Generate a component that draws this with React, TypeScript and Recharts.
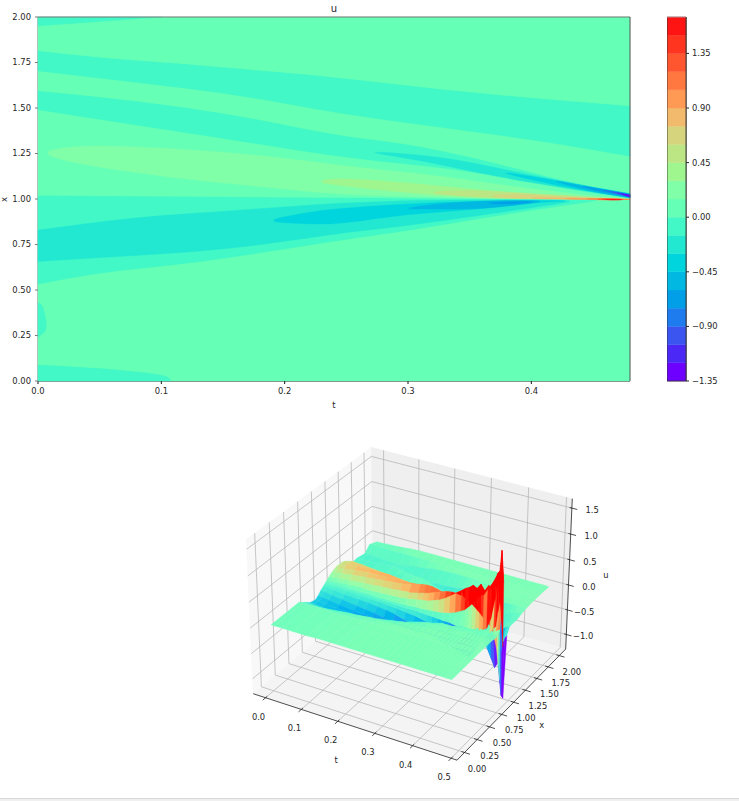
import { ComposedChart, Scatter, XAxis, YAxis } from "recharts";

type Pt = [number, number];
type Vertex = { x: number; y: number };

const FONT = "'DejaVu Sans', sans-serif";
const INK = "#262626";

// ---- contour panel: band outlines as [t, x]
const tTicks = [0, 0.1, 0.2, 0.3, 0.4];
const xTicks = [0, 0.25, 0.5, 0.75, 1, 1.25, 1.5, 1.75, 2];
const colorTicks = [-1.35, -0.9, -0.45, 0, 0.45, 0.9, 1.35];
const colorEdges = [
  -1.35, -1.2, -1.05, -0.9, -0.75, -0.6, -0.45, -0.3, -0.15, 0, 0.15, 0.3, 0.45, 0.6, 0.75, 0.9, 1.05, 1.2, 1.35, 1.5,
  1.65,
];
const levelColors = [
  "#6e00ff", "#4c28f6", "#3b55f0", "#1e7cee", "#009fe8", "#00b8e2", "#00d4dd", "#22e8d2", "#42f8c6", "#66ffb6",
  "#80ffa8", "#9ff58e", "#bce584", "#d6d47d", "#f2ba6c", "#ff9a55", "#ff7840", "#ff5630", "#ff3520", "#ff1414",
];

const fullPanel: Pt[] = [[0, 0], [0.48, 0], [0.48, 2], [0, 2]];
const cornerTop: Pt[] = [[0, 2], [0.1, 2], [0, 1.95]];
const stripeOne: Pt[] = [
  [0, 1.813], [0.05, 1.776], [0.131, 1.734], [0.245, 1.666], [0.326, 1.6], [0.407, 1.55], [0.48, 1.51],
  [0.48, 1.235], [0.407, 1.321], [0.326, 1.394], [0.245, 1.468], [0.158, 1.578], [0.077, 1.642], [0, 1.703],
];
const stripeTwo: Pt[] = [
  [0, 1.593], [0.077, 1.541], [0.158, 1.464], [0.245, 1.345], [0.299, 1.303], [0.358, 1.22], [0.413, 1.12],
  [0.466, 1.04], [0.48, 1.02], [0.48, 1.005], [0.434, 1.064], [0.38, 1.119], [0.326, 1.174], [0.245, 1.229],
  [0.158, 1.325], [0.077, 1.409], [0, 1.49],
];
const upperLens7: Pt[] = [
  [0.258, 1.268], [0.326, 1.235], [0.38, 1.16], [0.434, 1.085], [0.48, 1.025], [0.48, 1.008], [0.434, 1.05],
  [0.366, 1.13], [0.312, 1.21],
];
const upperLens6: Pt[] = [[0.37, 1.156], [0.418, 1.105], [0.45, 1.065], [0.48, 1.03], [0.48, 1.006], [0.44, 1.05], [0.4, 1.105]];
const upperLens5: Pt[] = [[0.41, 1.112], [0.45, 1.06], [0.48, 1.028], [0.48, 1.007], [0.45, 1.04]];
const upperLens4: Pt[] = [[0.435, 1.078], [0.46, 1.05], [0.48, 1.026], [0.48, 1.008], [0.46, 1.035]];
const upperLens3: Pt[] = [[0.452, 1.058], [0.48, 1.024], [0.48, 1.01]];
const upperLens2: Pt[] = [[0.46, 1.048], [0.48, 1.022], [0.48, 1.011]];
const upperLens1: Pt[] = [[0.466, 1.04], [0.48, 1.021], [0.48, 1.012]];
const upperLens0: Pt[] = [[0.472, 1.032], [0.48, 1.02], [0.48, 1.013]];

const ridge10: Pt[] = [
  [0.001, 1.262], [0.037, 1.297], [0.104, 1.281], [0.185, 1.239], [0.245, 1.183], [0.326, 1.128], [0.38, 1.073],
  [0.434, 1.028], [0.48, 1], [0.407, 0.996], [0.326, 1.009], [0.245, 1.024], [0.185, 1.064], [0.104, 1.119], [0.023, 1.202],
];
const ridge11: Pt[] = [
  [0.225, 1.095], [0.245, 1.119], [0.326, 1.073], [0.38, 1.037], [0.434, 1.009], [0.48, 0.996], [0.407, 0.996],
  [0.326, 1.015], [0.245, 1.073],
];
const ridge12: Pt[] = [[0.31, 1.037], [0.353, 1.05], [0.407, 1.028], [0.48, 0.998], [0.407, 0.996], [0.353, 1.009]];
const ridge13: Pt[] = [[0.36, 1.015], [0.39, 1.028], [0.434, 1.009], [0.48, 0.998], [0.407, 0.996]];
const ridge14: Pt[] = [[0.39, 1.009], [0.434, 1.006], [0.48, 0.998], [0.434, 0.994]];
const ridge15: Pt[] = [[0.42, 1.003], [0.45, 1.003], [0.48, 0.998], [0.45, 0.993]];
const ridge16: Pt[] = [[0.44, 1.002], [0.46, 1.002], [0.48, 0.998], [0.46, 0.994]];
const ridge17: Pt[] = [[0.45, 1.001], [0.465, 1.002], [0.478, 0.998], [0.465, 0.993]];
const ridge18: Pt[] = [[0.455, 1], [0.465, 1], [0.476, 0.997], [0.465, 0.994]];
const ridge19: Pt[] = [[0.458, 0.998], [0.468, 1], [0.475, 0.997], [0.468, 0.994]];

const valley8: Pt[] = [
  [0, 1.018], [0.245, 1.006], [0.453, 0.995], [0.453, 0.99], [0.434, 0.972], [0.38, 0.917], [0.299, 0.826],
  [0.245, 0.774], [0.131, 0.651], [0.05, 0.596], [0, 0.532],
];
const valley7: Pt[] = [
  [0, 0.829], [0.077, 0.899], [0.158, 0.936], [0.245, 0.98], [0.326, 0.996], [0.44, 0.996], [0.42, 0.972],
  [0.366, 0.917], [0.299, 0.853], [0.245, 0.813], [0.158, 0.725], [0.077, 0.688], [0, 0.657],
];
const valley6: Pt[] = [
  [0.182, 0.877], [0.218, 0.927], [0.245, 0.95], [0.326, 0.985], [0.407, 0.993], [0.434, 0.99], [0.407, 0.982],
  [0.353, 0.94], [0.299, 0.917], [0.245, 0.862], [0.218, 0.862],
];
const valley5: Pt[] = [[0.292, 0.945], [0.326, 0.976], [0.366, 0.99], [0.407, 0.993], [0.407, 0.982], [0.361, 0.945], [0.326, 0.945]];
const valley4: Pt[] = [[0.36, 0.978], [0.385, 0.987], [0.407, 0.985], [0.38, 0.969]];
const sliver: Pt[] = [[0, 0.505], [0.042, 0.55], [0, 0.523]];
const leftStreak: Pt[] = [[0, 0.43], [0.004, 0.42], [0.008, 0.285], [0.002, 0.25], [0, 0.24]];
const bottomWedge: Pt[] = [[0, 0.088], [0.05, 0.07], [0.104, 0.035], [0.108, 0], [0, 0]];

const contourLayers: [number, Pt[]][] = [
  [9, fullPanel], [8, cornerTop], [8, stripeOne], [8, stripeTwo], [8, leftStreak], [8, bottomWedge],
  [7, upperLens7], [6, upperLens6], [5, upperLens5], [4, upperLens4], [3, upperLens3], [2, upperLens2],
  [1, upperLens1], [0, upperLens0], [10, ridge10], [11, ridge11], [12, ridge12], [13, ridge13], [14, ridge14],
  [15, ridge15], [16, ridge16], [17, ridge17], [18, ridge18], [19, ridge19], [8, valley8], [9, sliver], [7, valley7],
  [6, valley6], [5, valley5], [4, valley4],
];

const surfaceT = [
  0, 0.01, 0.03, 0.06, 0.1, 0.125, 0.15, 0.175, 0.2, 0.225, 0.25, 0.265, 0.28, 0.295, 0.31, 0.325, 0.34, 0.355, 0.37,
  0.38, 0.39, 0.4, 0.41, 0.42, 0.43, 0.44, 0.45, 0.46, 0.465, 0.47, 0.475, 0.48,
];
const surfaceX = [
  0, 0.5, 0.6, 0.7, 0.8, 0.85, 0.9, 0.95, 0.98, 0.995, 1.005, 1.02, 1.05, 1.1, 1.15, 1.2, 1.3, 1.4, 1.5, 1.6, 1.75, 1.85, 2,
];
const surfaceU = [
  [0.01, 0.01, -0.08, -0.17, -0.2, -0.16, -0.1, -0.06, -0.03, -0.02, -0.01, 0, 0.03, 0.07, 0.1, 0.12, 0.12, 0.05, -0.06, -0.04, -0.08, 0.03, -0.04],
  [0.01, 0.01, -0.08, -0.18, -0.21, -0.17, -0.11, -0.07, -0.04, -0.02, -0.01, 0.01, 0.05, 0.1, 0.13, 0.16, 0.16, 0.06, -0.06, -0.04, -0.08, 0.03, -0.04],
  [0.01, 0.01, -0.09, -0.2, -0.23, -0.19, -0.13, -0.08, -0.05, -0.03, -0.01, 0.02, 0.07, 0.13, 0.18, 0.21, 0.2, 0.06, -0.07, -0.04, -0.08, 0.03, -0.03],
  [0.01, 0.02, -0.08, -0.21, -0.25, -0.22, -0.16, -0.1, -0.06, -0.03, -0.01, 0.03, 0.09, 0.16, 0.21, 0.24, 0.19, 0.04, -0.08, -0.03, -0.09, 0.03, -0.02],
  [0.01, 0.02, -0.05, -0.2, -0.27, -0.25, -0.2, -0.12, -0.07, -0.04, -0.01, 0.05, 0.12, 0.19, 0.24, 0.26, 0.16, -0.05, -0.08, 0, -0.09, 0.03, 0.01],
  [0.02, 0.02, -0.03, -0.17, -0.27, -0.27, -0.22, -0.13, -0.08, -0.04, -0.01, 0.05, 0.13, 0.21, 0.25, 0.26, 0.14, -0.07, -0.03, -0.03, -0.07, 0.03, 0.02],
  [0.02, 0.02, -0.02, -0.14, -0.27, -0.28, -0.24, -0.15, -0.09, -0.05, -0.02, 0.06, 0.15, 0.23, 0.26, 0.26, 0.11, -0.08, 0.02, -0.06, -0.05, 0.03, 0.02],
  [0.02, 0.02, 0, -0.11, -0.26, -0.3, -0.28, -0.17, -0.1, -0.05, -0.02, 0.07, 0.16, 0.25, 0.27, 0.24, 0.03, -0.05, 0.03, -0.08, -0.02, 0.03, 0.02],
  [0.02, 0.03, 0.01, -0.08, -0.25, -0.32, -0.33, -0.2, -0.11, -0.06, -0.02, 0.08, 0.18, 0.27, 0.27, 0.22, -0.06, -0.02, 0.03, -0.1, 0.01, 0.03, 0.02],
  [0.02, 0.03, 0.02, -0.05, -0.18, -0.28, -0.36, -0.25, -0.13, -0.07, -0.02, 0.1, 0.2, 0.32, 0.28, 0.17, -0.09, 0, -0.03, -0.1, 0.02, 0.03, 0.02],
  [0.02, 0.03, 0.03, -0.02, -0.12, -0.25, -0.35, -0.3, -0.15, -0.06, 0, 0.14, 0.24, 0.36, 0.26, 0.12, -0.1, 0.02, -0.09, -0.1, 0.03, 0.03, 0.02],
  [0.02, 0.03, 0.03, 0, -0.08, -0.2, -0.38, -0.34, -0.17, -0.07, 0, 0.16, 0.27, 0.38, 0.22, 0.08, -0.14, 0.01, -0.1, -0.09, 0.03, 0.03, 0.02],
  [0.02, 0.03, 0.03, 0.01, -0.05, -0.15, -0.33, -0.38, -0.2, -0.08, 0.01, 0.18, 0.3, 0.38, 0.18, 0.04, -0.17, 0, -0.1, -0.08, 0.03, 0.03, 0.02],
  [0.02, 0.03, 0.03, 0.02, -0.02, -0.1, -0.28, -0.4, -0.25, -0.08, 0.02, 0.22, 0.34, 0.36, 0.13, -0.03, -0.16, 0.02, -0.11, -0.05, 0.03, 0.03, 0.02],
  [0.02, 0.03, 0.03, 0.02, 0, -0.05, -0.25, -0.42, -0.32, -0.09, 0.03, 0.26, 0.38, 0.32, 0.08, -0.1, -0.14, 0.03, -0.12, -0.03, 0.03, 0.03, 0.02],
  [0.02, 0.03, 0.03, 0.03, 0.01, -0.02, -0.2, -0.48, -0.4, -0.1, 0.05, 0.32, 0.42, 0.27, 0.03, -0.15, -0.1, -0.04, -0.12, -0.01, 0.03, 0.03, 0.02],
  [0.02, 0.03, 0.03, 0.03, 0.01, 0.01, -0.13, -0.5, -0.48, -0.1, 0.08, 0.4, 0.44, 0.22, -0.03, -0.2, -0.06, -0.1, -0.12, 0, 0.03, 0.03, 0.02],
  [0.02, 0.03, 0.03, 0.03, 0.02, 0.01, -0.07, -0.47, -0.56, -0.12, 0.12, 0.48, 0.44, 0.16, -0.1, -0.25, -0.05, -0.11, -0.12, 0.02, 0.03, 0.03, 0.02],
  [0.02, 0.03, 0.03, 0.03, 0.02, 0.01, -0.03, -0.35, -0.6, -0.14, 0.18, 0.56, 0.42, 0.1, -0.16, -0.3, -0.04, -0.12, -0.11, 0.03, 0.03, 0.03, 0.02],
  [0.02, 0.03, 0.03, 0.03, 0.02, 0.01, -0.01, -0.28, -0.62, -0.16, 0.22, 0.62, 0.38, 0.05, -0.22, -0.33, -0.03, -0.12, -0.08, 0.03, 0.03, 0.03, 0.02],
  [0.02, 0.03, 0.03, 0.03, 0.03, 0.01, 0, -0.2, -0.64, -0.18, 0.3, 0.66, 0.34, -0.02, -0.28, -0.33, -0.02, -0.12, -0.05, 0.03, 0.03, 0.03, 0.02],
  [0.02, 0.03, 0.03, 0.03, 0.03, 0.01, 0, -0.1, -0.62, -0.18, 0.38, 0.72, 0.28, -0.12, -0.32, -0.3, -0.03, -0.13, -0.02, 0.03, 0.03, 0.03, 0.02],
  [0.02, 0.03, 0.03, 0.03, 0.03, 0.01, 0, -0.05, -0.5, -0.15, 0.48, 0.68, 0.22, -0.28, -0.34, -0.27, -0.03, -0.13, 0, 0.03, 0.03, 0.03, 0.02],
  [0.02, 0.03, 0.03, 0.03, 0.03, 0.01, 0, 0, -0.35, -0.1, 0.58, 0.78, 0.15, -0.4, -0.3, -0.2, -0.04, -0.12, 0.01, 0.03, 0.03, 0.03, 0.02],
  [0.02, 0.03, 0.03, 0.03, 0.03, 0.01, 0, 0, -0.25, -0.05, 0.62, 0.68, 0.08, -0.52, -0.26, -0.14, -0.05, -0.1, 0.02, 0.03, 0.03, 0.03, 0.02],
  [0.02, 0.03, 0.03, 0.03, 0.03, 0.01, 0.01, 0.01, -0.12, 0, 0.75, 0.8, 0.02, -0.68, -0.2, -0.1, -0.05, -0.08, 0.02, 0.03, 0.03, 0.03, 0.02],
  [0.02, 0.03, 0.03, 0.03, 0.03, 0.01, 0.02, 0.01, -0.05, 0.2, 0.85, 0.72, -0.1, -0.85, -0.16, -0.08, -0.06, -0.05, 0.02, 0.03, 0.03, 0.03, 0.02],
  [0.02, 0.03, 0.03, 0.03, 0.03, 0.01, 0.02, 0.02, 0.05, 0.6, 1, 0.85, -0.4, -0.7, -0.12, -0.05, -0.06, -0.02, 0.02, 0.03, 0.03, 0.03, 0.02],
  [0.02, 0.03, 0.03, 0.03, 0.03, 0.01, 0.02, 0.02, 0.1, 0.85, 1.1, 0.85, -0.7, -0.5, -0.08, -0.03, -0.06, 0, 0.02, 0.03, 0.03, 0.03, 0.02],
  [0.02, 0.03, 0.03, 0.03, 0.03, 0.01, 0.02, 0.05, 0.4, 1.05, 1.15, 0.6, -1, -0.3, -0.05, -0.02, -0.05, 0, 0.02, 0.03, 0.03, 0.03, 0.02],
  [0.02, 0.03, 0.03, 0.03, 0.03, 0.01, 0.02, 0.08, 0.6, 1.55, 1.15, 0.2, -1.3, -0.2, -0.04, -0.02, -0.04, 0, 0.02, 0.03, 0.03, 0.03, 0.02],
  [0.02, 0.03, 0.03, 0.03, 0.03, 0.01, 0.02, 0.1, 0.5, 1.1, 0.95, -0.3, -1.35, -0.15, -0.03, -0.02, -0.03, 0, 0.02, 0.03, 0.03, 0.03, 0.02],
];
const boxTTicks = [0, 0.1, 0.2, 0.3, 0.4, 0.5];
const boxXTicks = [0, 0.25, 0.5, 0.75, 1, 1.25, 1.5, 1.75, 2];
const boxUTicks = [-1, -0.5, 0, 0.5, 1, 1.5];

// box limits of the 3D view, including the pane padding
const T0 = -0.035;
const T1 = 0.515;
const X0 = -0.1457;
const X1 = 2.1457;
const U0 = -1.3;
const U1 = 1.68;

// matplotlib's default view: elev 30, azim -60, box 4:4:3, dist 10
function project(t: number, x: number, u: number) {
  const rx = ((t - T0) / (T1 - T0) - 0.5) * 1.1429;
  const ry = ((x - X0) / (X1 - X0) - 0.5) * 1.1429;
  const rz = ((u - U0) / (U1 - U0) - 0.5) * 0.8572;
  const d = 10 - (0.433 * rx - 0.75 * ry + 0.5 * rz);
  return {
    x: ((0.866 * rx + 0.5 * ry) * 10) / d,
    y: ((-0.25 * rx + 0.433 * ry + 0.866 * rz) * 10) / d,
    d,
  };
}

function rainbow(v: number) {
  const c = Math.min(1, Math.max(0, v));
  const r = Math.min(1, Math.abs(2 * c - 0.5));
  const g = Math.sin(Math.PI * c);
  const b = Math.cos((Math.PI * c) / 2);
  return `rgb(${Math.round(r * 255)},${Math.round(g * 255)},${Math.round(b * 255)})`;
}
// the surface uses a tighter colour range than the contour levels
const surfaceColor = (u: number) => rainbow(u > 0 ? 0.46 + 1.15 * u : 0.46 + 0.85 * u);

const toPath = (pts: Vertex[]) => "M" + pts.map((p) => `${p.x},${p.y}`).join("L") + "Z";

// rounds the outline, except for points on the frame of the panel
function smoothPath(pts: Vertex[], fixed: boolean[]) {
  const n = pts.length;
  const mid = (a: Vertex, b: Vertex) => `${(a.x + b.x) / 2},${(a.y + b.y) / 2}`;
  let d = "M" + mid(pts[n - 1], pts[0]);
  for (let i = 0; i < n; i++) {
    const cur = pts[i];
    const m = mid(cur, pts[(i + 1) % n]);
    d += fixed[i] ? `L${cur.x},${cur.y}L${m}` : `Q${cur.x},${cur.y} ${m}`;
  }
  return d + "Z";
}

const hidden = () => null;

// polygons share one Scatter: every `size` points in its line make one filled shape
const polygons = (size: number, fills: string[]) => (p: any) => {
  const out = [];
  for (let i = 0; i * size < p.points.length; i++) {
    const fill = fills[i % fills.length];
    out.push(
      <path key={i} d={toPath(p.points.slice(i * size, i * size + size))} fill={fill} stroke={fill} strokeWidth={0.4} />,
    );
  }
  return <g>{out}</g>;
};
const contourBand = (fill: string, shape: Pt[]) => (p: any) => {
  const fixed = shape.map(([t, x]) => t === 0 || t === 0.48 || x === 0 || x === 2);
  return <path d={smoothPath(p.points, fixed)} fill={fill} stroke={fill} strokeWidth={0.3} />;
};
const segments = (stroke: string, width: number) => (p: any) => {
  const out = [];
  for (let i = 0; i + 1 < p.points.length; i += 2) {
    const a = p.points[i];
    const b = p.points[i + 1];
    out.push(<line key={i} x1={a.x} y1={a.y} x2={b.x} y2={b.y} stroke={stroke} strokeWidth={width} />);
  }
  return <g>{out}</g>;
};
const labelShape = (p: any) => (
  <text
    x={p.cx + (p.payload.dx ?? 0)}
    y={p.cy + (p.payload.dy ?? 0)}
    fontSize={8.4}
    fontFamily={FONT}
    fill={INK}
    textAnchor={p.payload.anchor ?? "middle"}
  >
    {p.payload.label}
  </text>
);

const pt = (t: number, x: number, u: number): Vertex => {
  const q = project(t, x, u);
  return { x: q.x, y: q.y };
};

// panes
const leftPane = [pt(T0, X0, U0), pt(T0, X1, U0), pt(T0, X1, U1), pt(T0, X0, U1)];
const backPane = [pt(T0, X1, U0), pt(T1, X1, U0), pt(T1, X1, U1), pt(T0, X1, U1)];
const floorPane = [pt(T0, X0, U0), pt(T1, X0, U0), pt(T1, X1, U0), pt(T0, X1, U0)];

// grid lines, as pairs of points
const gridLines: Vertex[] = [];
boxTTicks.forEach((t) => gridLines.push(pt(t, X0, U0), pt(t, X1, U0), pt(t, X1, U0), pt(t, X1, U1)));
boxXTicks.forEach((x) => gridLines.push(pt(T1, x, U0), pt(T0, x, U0), pt(T0, x, U0), pt(T0, x, U1)));
boxUTicks.forEach((u) => gridLines.push(pt(T0, X0, u), pt(T0, X1, u), pt(T0, X1, u), pt(T1, X1, u)));

const axisLines: Vertex[] = [
  pt(T0, X0, U0), pt(T1, X0, U0), pt(T1, X0, U0), pt(T1, X1, U0), pt(T1, X1, U0), pt(T1, X1, U1),
];
const tickMarks: Vertex[] = [];
boxTTicks.forEach((t) => tickMarks.push(pt(t, X0 + 0.03, U0), pt(t, X0 - 0.05, U0)));
boxXTicks.forEach((x) => tickMarks.push(pt(T1 - 0.008, x, U0), pt(T1 + 0.014, x, U0)));
boxUTicks.forEach((u) => tickMarks.push(pt(T1 - 0.006, X1, u), pt(T1 + 0.014, X1, u)));

const boxLabels: any[] = [
  ...boxTTicks.map((t) => ({ ...pt(t, X0, U0), label: t.toFixed(1), dx: -7, dy: 22 })),
  ...boxXTicks.map((x) => ({ ...pt(T1, x, U0), label: x.toFixed(2), dx: 12.5, dy: 19 })),
  ...boxUTicks.map((u) => ({
    ...pt(T1, X1, u),
    label: u.toFixed(1).replace("-", "\u2212"),
    dx: 27,
    dy: 5,
    anchor: "end",
  })),
  { ...pt(0.25, X0, U0), label: "t", dx: -20, dy: 36 },
  { ...pt(T1, 1, U0), label: "x", dx: 28, dy: 26 },
  { ...pt(T1, X1, 0.2), label: "u", dx: 37, dy: 3 },
];

// surface facets, far ones first
const facets: { d: number; fill: string; pts: Vertex[] }[] = [];
for (let i = 0; i + 1 < surfaceT.length; i++) {
  for (let j = 0; j + 1 < surfaceX.length; j++) {
    const a = project(surfaceT[i], surfaceX[j], surfaceU[i][j]);
    const b = project(surfaceT[i + 1], surfaceX[j], surfaceU[i + 1][j]);
    const c = project(surfaceT[i + 1], surfaceX[j + 1], surfaceU[i + 1][j + 1]);
    const e = project(surfaceT[i], surfaceX[j + 1], surfaceU[i][j + 1]);
    const mean = (surfaceU[i][j] + surfaceU[i + 1][j] + surfaceU[i + 1][j + 1] + surfaceU[i][j + 1]) / 4;
    facets.push({
      d: (a.d + b.d + c.d + e.d) / 4,
      fill: surfaceColor(mean),
      pts: [a, b, c, e].map((q) => ({ x: q.x, y: q.y })),
    });
  }
}
facets.sort((p, q) => q.d - p.d);
const facetPoints = facets.flatMap((f) => f.pts);
const facetFills = facets.map((f) => f.fill);

// screen window of the 3D panel, expressed in projected units
const BOX_LEFT = 220;
const BOX_TOP = 430;
const BOX_W = 400;
const BOX_H = 368;
const SX = 204.4;
const SY = 205;
const CX = 412.2;
const CY = 596.5;
const boxXDomain = [(BOX_LEFT - CX) / SX, (BOX_LEFT + BOX_W - CX) / SX];
const boxYDomain = [(CY - BOX_TOP - BOX_H) / SY, (CY - BOX_TOP) / SY];

const tickStyle = { fontSize: 8.4, fontFamily: FONT, fill: INK };

function ContourPanel() {
  const spine = (stroke: string, a: Pt, b: Pt) => (
    <Scatter
      data={[{ x: a[0], y: a[1] }, { x: b[0], y: b[1] }]}
      line={segments(stroke, 1)}
      shape={hidden}
      isAnimationActive={false}
    />
  );
  return (
    <ComposedChart width={660} height={410} margin={{ top: 17, right: 30, bottom: 0, left: 0 }}>
      <XAxis
        type="number"
        dataKey="x"
        domain={[0, 0.48]}
        ticks={tTicks}
        interval={0}
        tickFormatter={(v: number) => v.toFixed(1)}
        height={29}
        tickSize={3}
        tickMargin={4}
        tick={tickStyle}
        stroke="#111"
        label={{ value: "t", position: "insideBottom", offset: 2, style: tickStyle }}
      />
      <YAxis
        type="number"
        dataKey="y"
        domain={[0, 2]}
        ticks={xTicks}
        interval={0}
        tickFormatter={(v: number) => v.toFixed(2)}
        width={38}
        tickSize={3}
        tickMargin={4}
        tick={tickStyle}
        stroke="#777"
        label={{ value: "x", angle: -90, position: "insideLeft", offset: 4, dy: 3, style: tickStyle }}
      />
      {contourLayers.map(([level, shape], i) => (
        <Scatter
          key={i}
          data={shape.map(([x, y]) => ({ x, y }))}
          line={contourBand(levelColors[level], shape)}
          shape={hidden}
          isAnimationActive={false}
        />
      ))}
      {spine("#777", [0, 2], [0.48, 2])}
      {spine("#555", [0.48, 0], [0.48, 2])}
      <text x={334} y={12} fontSize={10} fontFamily={FONT} fill={INK} textAnchor="middle">
        u
      </text>
    </ComposedChart>
  );
}

function ColorbarPanel() {
  return (
    <ComposedChart width={72} height={410} margin={{ top: 17, right: 0, bottom: 29, left: 0 }}>
      <XAxis type="number" dataKey="x" domain={[0, 1]} hide />
      <YAxis
        type="number"
        dataKey="y"
        orientation="right"
        domain={[-1.35, 1.65]}
        ticks={colorTicks}
        interval={0}
        tickFormatter={(v: number) => v.toFixed(2).replace("-", "\u2212")}
        width={53}
        tickSize={3}
        tickMargin={3}
        tick={{ ...tickStyle, textAnchor: "start" }}
        stroke="#222"
      />
      <Scatter
        data={colorEdges.slice(0, -1).flatMap((lo, i) => [
          { x: 0, y: lo },
          { x: 1, y: lo },
          { x: 1, y: colorEdges[i + 1] },
          { x: 0, y: colorEdges[i + 1] },
        ])}
        line={polygons(4, levelColors)}
        shape={hidden}
        isAnimationActive={false}
      />
      <Scatter
        data={[
          { x: 0, y: -1.35 }, { x: 1, y: -1.35 }, { x: 1, y: -1.35 }, { x: 1, y: 1.65 },
          { x: 0, y: 1.65 }, { x: 0, y: -1.35 },
        ]}
        line={segments("#333", 0.9)}
        shape={hidden}
        isAnimationActive={false}
      />
      <Scatter
        data={[{ x: 1, y: 1.65 }, { x: 0, y: 1.65 }]}
        line={segments("#999", 0.9)}
        shape={hidden}
        isAnimationActive={false}
      />
    </ComposedChart>
  );
}

function SurfacePanel() {
  return (
    <ComposedChart width={BOX_W} height={BOX_H} margin={{ top: 0, right: 0, bottom: 0, left: 0 }}>
      <XAxis type="number" dataKey="x" domain={boxXDomain} allowDataOverflow hide />
      <YAxis type="number" dataKey="y" domain={boxYDomain} allowDataOverflow hide />
      <Scatter data={leftPane} line={polygons(4, ["#f8f8f8"])} shape={hidden} isAnimationActive={false} />
      <Scatter data={backPane} line={polygons(4, ["#efefef"])} shape={hidden} isAnimationActive={false} />
      <Scatter data={floorPane} line={polygons(4, ["#f4f4f4"])} shape={hidden} isAnimationActive={false} />
      <Scatter data={gridLines} line={segments("#b4b4b4", 0.75)} shape={hidden} isAnimationActive={false} />
      <Scatter data={axisLines} line={segments("#222", 0.8)} shape={hidden} isAnimationActive={false} />
      <Scatter data={tickMarks} line={segments("#222", 0.8)} shape={hidden} isAnimationActive={false} />
      <Scatter data={facetPoints} line={polygons(4, facetFills)} shape={hidden} isAnimationActive={false} />
      <Scatter data={boxLabels} shape={labelShape} isAnimationActive={false} />
    </ComposedChart>
  );
}

export default function App() {
  return (
    <div style={{ position: "absolute", left: 0, top: 0, width: 739, height: 801, background: "#fff", overflow: "hidden" }}>
      <div style={{ position: "absolute", left: 0, top: 0 }}>
        <ContourPanel />
      </div>
      <div style={{ position: "absolute", left: 667, top: 0 }}>
        <ColorbarPanel />
      </div>
      <div style={{ position: "absolute", left: BOX_LEFT, top: BOX_TOP }}>
        <SurfacePanel />
      </div>
      <div
        style={{
          position: "absolute",
          left: 0,
          top: 798,
          width: 739,
          height: 3,
          background: "#f0f0f0",
          borderTop: "1px solid #d8d8d8",
          boxSizing: "border-box",
        }}
      />
    </div>
  );
}
